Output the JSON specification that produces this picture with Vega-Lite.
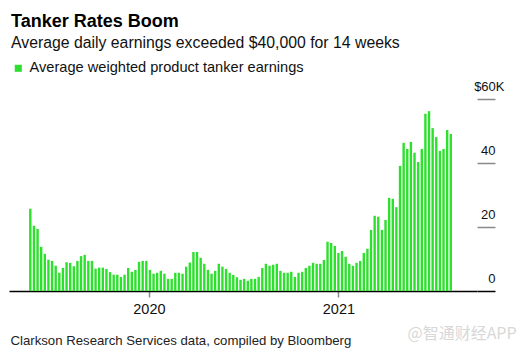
{
  "$schema": "https://vega.github.io/schema/vega-lite/v6.json",
  "autosize": "none",
  "width": 468,
  "height": 192,
  "padding": {"left": 9, "top": 99, "right": 53, "bottom": 62},
  "background": "white",
  "config": {"view": {"stroke": null}},
  "title": {
    "text": "Tanker Rates Boom",
    "subtitle": "Average daily earnings exceeded $40,000 for 14 weeks",
    "anchor": "start",
    "frame": "group",
    "font": "Liberation Sans",
    "fontSize": 18,
    "fontWeight": "bold",
    "color": "#000",
    "subtitleFont": "Liberation Sans",
    "subtitleFontSize": 15.8,
    "subtitleColor": "#111",
    "subtitlePadding": 5,
    "offset": 10,
    "dx": 2
  },
  "data": {"values": [
    {"date": "2019-05-17", "v": 25.7}, {"date": "2019-05-24", "v": 20.4}, {"date": "2019-05-31", "v": 19.4}, {"date": "2019-06-07", "v": 13.8},
    {"date": "2019-06-14", "v": 11.6}, {"date": "2019-06-21", "v": 9.8}, {"date": "2019-06-28", "v": 9.4}, {"date": "2019-07-05", "v": 7.9},
    {"date": "2019-07-12", "v": 5.7}, {"date": "2019-07-19", "v": 7.2}, {"date": "2019-07-26", "v": 9.0}, {"date": "2019-08-02", "v": 8.8},
    {"date": "2019-08-09", "v": 7.7}, {"date": "2019-08-16", "v": 9.4}, {"date": "2019-08-23", "v": 10.9}, {"date": "2019-08-30", "v": 11.3},
    {"date": "2019-09-06", "v": 9.4}, {"date": "2019-09-13", "v": 9.4}, {"date": "2019-09-20", "v": 7.0}, {"date": "2019-09-27", "v": 7.3},
    {"date": "2019-10-04", "v": 7.3}, {"date": "2019-10-11", "v": 6.9}, {"date": "2019-10-18", "v": 5.9}, {"date": "2019-10-25", "v": 5.1},
    {"date": "2019-11-01", "v": 5.1}, {"date": "2019-11-08", "v": 4.4}, {"date": "2019-11-15", "v": 5.1}, {"date": "2019-11-22", "v": 7.2},
    {"date": "2019-11-29", "v": 6.0}, {"date": "2019-12-06", "v": 6.6}, {"date": "2019-12-13", "v": 9.1}, {"date": "2019-12-20", "v": 9.4},
    {"date": "2019-12-27", "v": 9.4}, {"date": "2020-01-03", "v": 6.6}, {"date": "2020-01-10", "v": 5.4}, {"date": "2020-01-17", "v": 5.7},
    {"date": "2020-01-24", "v": 6.3}, {"date": "2020-01-31", "v": 5.4}, {"date": "2020-02-07", "v": 3.8}, {"date": "2020-02-14", "v": 3.8},
    {"date": "2020-02-21", "v": 5.7}, {"date": "2020-02-28", "v": 5.7}, {"date": "2020-03-06", "v": 5.4}, {"date": "2020-03-13", "v": 7.6},
    {"date": "2020-03-20", "v": 8.9}, {"date": "2020-03-27", "v": 12.2}, {"date": "2020-04-03", "v": 12.2}, {"date": "2020-04-10", "v": 10.4},
    {"date": "2020-04-17", "v": 8.5}, {"date": "2020-04-24", "v": 6.6}, {"date": "2020-05-01", "v": 5.4}, {"date": "2020-05-08", "v": 6.3},
    {"date": "2020-05-15", "v": 8.5}, {"date": "2020-05-22", "v": 7.6}, {"date": "2020-05-29", "v": 6.9}, {"date": "2020-06-05", "v": 5.7},
    {"date": "2020-06-12", "v": 5.0}, {"date": "2020-06-19", "v": 4.3}, {"date": "2020-06-26", "v": 3.5}, {"date": "2020-07-03", "v": 3.8},
    {"date": "2020-07-10", "v": 3.2}, {"date": "2020-07-17", "v": 3.8}, {"date": "2020-07-24", "v": 3.8}, {"date": "2020-07-31", "v": 4.4},
    {"date": "2020-08-07", "v": 7.2}, {"date": "2020-08-14", "v": 8.5}, {"date": "2020-08-21", "v": 7.9}, {"date": "2020-08-28", "v": 8.2},
    {"date": "2020-09-04", "v": 8.5}, {"date": "2020-09-11", "v": 6.3}, {"date": "2020-09-18", "v": 5.7}, {"date": "2020-09-25", "v": 5.7},
    {"date": "2020-10-02", "v": 6.0}, {"date": "2020-10-09", "v": 4.4}, {"date": "2020-10-16", "v": 5.7}, {"date": "2020-10-23", "v": 6.0},
    {"date": "2020-10-30", "v": 7.2}, {"date": "2020-11-06", "v": 7.9}, {"date": "2020-11-13", "v": 8.8}, {"date": "2020-11-20", "v": 8.5},
    {"date": "2020-11-27", "v": 8.5}, {"date": "2020-12-04", "v": 9.7}, {"date": "2020-12-11", "v": 15.4}, {"date": "2020-12-18", "v": 15.0},
    {"date": "2020-12-25", "v": 14.1}, {"date": "2021-01-01", "v": 11.9}, {"date": "2021-01-08", "v": 12.5}, {"date": "2021-01-15", "v": 10.7},
    {"date": "2021-01-22", "v": 8.5}, {"date": "2021-01-29", "v": 7.9}, {"date": "2021-02-05", "v": 8.8}, {"date": "2021-02-12", "v": 9.4},
    {"date": "2021-02-19", "v": 11.9}, {"date": "2021-02-26", "v": 13.2}, {"date": "2021-03-05", "v": 19.1}, {"date": "2021-03-12", "v": 23.5},
    {"date": "2021-03-19", "v": 23.2}, {"date": "2021-03-26", "v": 19.1}, {"date": "2021-04-02", "v": 22.2}, {"date": "2021-04-09", "v": 29.1},
    {"date": "2021-04-16", "v": 28.8}, {"date": "2021-04-23", "v": 26.2}, {"date": "2021-04-30", "v": 39.1}, {"date": "2021-05-07", "v": 46.3},
    {"date": "2021-05-14", "v": 44.4}, {"date": "2021-05-21", "v": 46.6}, {"date": "2021-05-28", "v": 43.2}, {"date": "2021-06-04", "v": 40.3},
    {"date": "2021-06-11", "v": 44.4}, {"date": "2021-06-18", "v": 55.4}, {"date": "2021-06-25", "v": 56.2}, {"date": "2021-07-02", "v": 50.9},
    {"date": "2021-07-09", "v": 48.1}, {"date": "2021-07-16", "v": 43.8}, {"date": "2021-07-23", "v": 44.4}, {"date": "2021-07-30", "v": 50.3},
    {"date": "2021-08-06", "v": 49.1}
  ]},
  "mark": {"type": "bar", "width": 2.4},
  "encoding": {
    "x": {
      "field": "date",
      "type": "temporal",
      "scale": {"type": "utc", "domain": [{"year": 2019, "month": 4, "date": 15, "hours": 12, "utc": true}, {"year": 2021, "month": 9, "date": 16, "utc": true}]},
      "axis": {
        "values": [{"year": 2020, "month": 1, "date": 1, "utc": true}, {"year": 2021, "month": 1, "date": 1, "utc": true}],
        "format": "%Y",
        "grid": false,
        "domainColor": "#000",
        "domainWidth": 1.5,
        "tickColor": "#888",
        "tickSize": 6,
        "tickWidth": 1.5,
        "labelFont": "Liberation Sans",
        "labelFontSize": 14.5,
        "labelColor": "#111",
        "labelPadding": 5,
        "title": "Clarkson Research Services data, compiled by Bloomberg",
        "titleFont": "Liberation Sans",
        "titleFontSize": 13.2,
        "titleFontWeight": "normal",
        "titleColor": "#222",
        "titleAlign": "left",
        "titleBaseline": "alphabetic",
        "titleX": 1,
        "titleY": 53
      }
    },
    "y": {
      "field": "v",
      "type": "quantitative",
      "scale": {"domain": [0, 60], "nice": false},
      "axis": {
        "orient": "right",
        "values": [0, 20, 40, 60],
        "grid": false,
        "domain": false,
        "tickSize": 18,
        "tickWidth": 1.5,
        "tickColor": {"condition": {"test": "datum.value === 0", "value": "#000"}, "value": "#8a8a8a"},
        "labelAlign": "right",
        "labelBaseline": "alphabetic",
        "labelOffset": -9,
        "labelPadding": {"condition": {"test": "datum.value === 60", "value": 9}, "value": 0},
        "labelExpr": "datum.value === 60 ? '$60K' : datum.label",
        "labelFont": "Liberation Sans",
        "labelFontSize": 13,
        "labelColor": "#111",
        "title": "@智通财经APP",
        "titleAngle": 0,
        "titleX": -70,
        "titleY": 234,
        "titleAlign": "left",
        "titleBaseline": "middle",
        "titleFont": "Noto Sans CJK SC",
        "titleFontSize": 16,
        "titleFontWeight": "normal",
        "titleColor": "#d8d8d8"
      }
    },
    "color": {
      "datum": "Average weighted product tanker earnings",
      "type": "nominal",
      "scale": {"range": ["#2de02d"]},
      "legend": {
        "orient": "none",
        "legendX": 2,
        "legendY": -38,
        "title": null,
        "symbolType": "square",
        "symbolSize": 50,
        "symbolStrokeWidth": 0,
        "labelFont": "Liberation Sans",
        "labelFontSize": 14.6,
        "labelColor": "#111",
        "labelOffset": 4,
        "labelLimit": 0
      }
    }
  }
}
